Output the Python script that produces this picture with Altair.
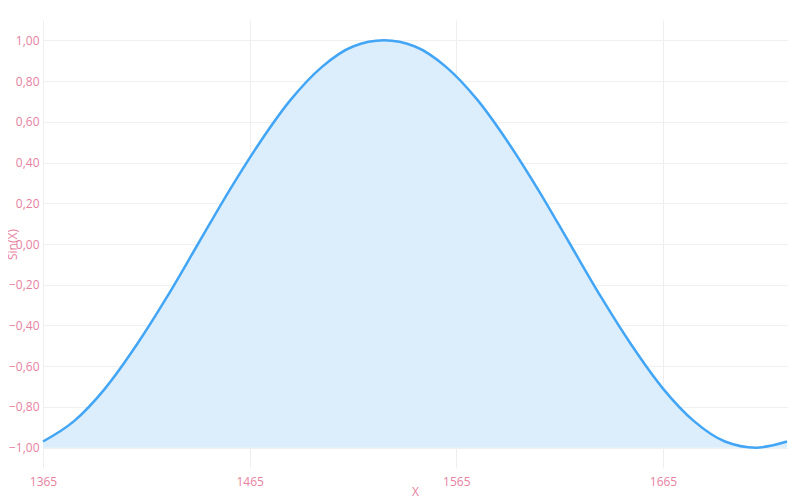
import altair as alt
import pandas as pd

x_vals = [1365, 1380, 1395, 1410, 1425, 1440, 1455, 1470, 1485, 1500, 1515, 1530, 1545,
          1560, 1575, 1590, 1605, 1620, 1635, 1650, 1665, 1680, 1695, 1710, 1725]
y_vals = [-0.97, -0.87, -0.71, -0.50, -0.26, 0.00, 0.26, 0.50, 0.71, 0.87, 0.97, 1.00, 0.97,
          0.87, 0.71, 0.50, 0.26, 0.00, -0.26, -0.50, -0.71, -0.87, -0.97, -1.00, -0.97]
x_ticks = [1365, 1465, 1565, 1665]
y_ticks = [-1.0, -0.8, -0.6, -0.4, -0.2, 0.0, 0.2, 0.4, 0.6, 0.8, 1.0]

df = pd.DataFrame({"x": x_vals, "y": y_vals})

pink = "#e8819f"
font = "Open Sans"

xenc = alt.X("x:Q", scale=alt.Scale(domain=[1365, 1725], nice=False, zero=False),
             axis=alt.Axis(values=x_ticks, format="d", title="X", grid=True,
                           gridColor="#eeeeee", domain=False, ticks=False,
                           labelColor=pink, titleColor=pink, labelFont=font, titleFont=font,
                           labelFontSize=12, titleFontSize=12, titleFontWeight="normal",
                           labelPadding=8, titlePadding=-1, labelFlush=False))
yenc = alt.Y("y:Q", scale=alt.Scale(domain=[-1.1, 1.1], nice=False, zero=False),
             axis=alt.Axis(values=y_ticks,
                           labelExpr="replace(format(datum.value, '.2f'), '.', ',')",
                           title="Sin(X)", grid=True, gridColor="#f0f0f0",
                           domain=False, ticks=False,
                           labelColor=pink, titleColor=pink, labelFont=font, titleFont=font,
                           labelFontSize=12, titleFontSize=12, titleFontWeight="normal",
                           labelPadding=4, titleX=-24, titleBaseline="bottom"))

base = alt.Chart(df)
area = base.mark_area(color="#dceefc", opacity=1, interpolate="monotone").encode(
    x=xenc, y=yenc, y2=alt.datum(-1.0))
line = base.mark_line(color="#42a5f5", strokeWidth=2.5, interpolate="monotone").encode(
    x="x:Q", y="y:Q")

chart = (area + line).properties(
    width=744, height=448,
    autosize=alt.AutoSizeParams(type="none"),
    padding={"left": 35, "top": 12, "right": 2, "bottom": 32},
).configure_view(stroke=None)

chart.save("out.html", embed_options={"renderer": "svg", "actions": False})
